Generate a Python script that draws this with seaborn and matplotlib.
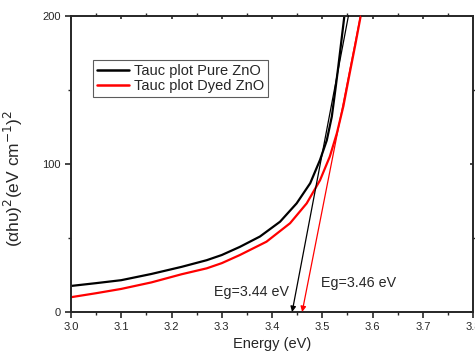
import matplotlib
matplotlib.use("Agg")
import matplotlib.pyplot as plt
from matplotlib.ticker import MultipleLocator
import seaborn as sns
import pandas as pd

# Tauc plot data
energy_pure = [3.00, 3.05, 3.10, 3.16, 3.22, 3.27, 3.30, 3.336, 3.376, 3.416,
               3.449, 3.476, 3.4955, 3.509, 3.519, 3.526, 3.532, 3.538, 3.544,
               3.550]
tauc_pure = [17.6, 19.5, 21.5, 25.7, 30.5, 35, 38.5, 44, 51, 61,
             73.4, 87, 102.7, 116, 132, 150, 166, 183, 200,
             218]

energy_dyed = [3.00, 3.05, 3.10, 3.16, 3.22, 3.27, 3.30, 3.336, 3.389, 3.436,
               3.469, 3.4955, 3.515, 3.529, 3.542, 3.555, 3.566, 3.5765, 3.587]
tauc_dyed = [10, 12.7, 15.6, 20, 25.5, 29.5, 33, 38.5, 47.5, 60,
             73.4, 89, 105, 120.7, 139, 162, 181, 200, 219]

# band gap tangents: intercept at y=0 and x where they reach y=200
eg_values = [3.44, 3.46]
tangent_top_x = [3.552, 3.576]
tangent_top_y = 200
tangent_colors = ["black", "red"]
eg_labels = ["Eg=3.44 eV", "Eg=3.46 eV"]

series_labels = ["Tauc plot Pure ZnO", "Tauc plot Dyed ZnO"]

sns.set_style("ticks")
plt.rcParams["font.family"] = ["Liberation Sans", "DejaVu Sans"]

df = pd.concat([
    pd.DataFrame({"E": energy_pure, "val": tauc_pure, "sample": series_labels[0]}),
    pd.DataFrame({"E": energy_dyed, "val": tauc_dyed, "sample": series_labels[1]}),
])

fig = plt.figure(figsize=(4.75, 3.58), dpi=100)
ax = fig.add_axes([0.1495, 0.1285, 0.8463, 0.8268])

sns.lineplot(data=df, x="E", y="val", hue="sample", palette=["black", "red"],
             linewidth=1.6, ax=ax, sort=False)

for eg, top, c in zip(eg_values, tangent_top_x, tangent_colors):
    ax.annotate("", xy=(eg, 0), xytext=(top, tangent_top_y),
                arrowprops=dict(arrowstyle="-|>", color=c, lw=0.9,
                                mutation_scale=8, shrinkA=0, shrinkB=0),
                annotation_clip=False)

ax.text(3.284, 13.5, eg_labels[0], fontsize=10.3, va="center")
ax.text(3.497, 19.8, eg_labels[1], fontsize=10.3, va="center")

ax.set_xlim(3.0, 3.8)
ax.set_ylim(0, 200)
ax.xaxis.set_major_locator(MultipleLocator(0.1))
ax.xaxis.set_minor_locator(MultipleLocator(0.05))
ax.yaxis.set_major_locator(MultipleLocator(100))
ax.yaxis.set_minor_locator(MultipleLocator(50))
ax.xaxis.set_major_formatter(plt.FormatStrFormatter("%.1f"))
ax.tick_params(which="major", direction="out", length=4, width=1.2, labelsize=8)
ax.tick_params(which="minor", direction="out", length=2.5, width=1.0)
ax.tick_params(which="both", top=True, right=True, labeltop=False, labelright=False)
for s in ax.spines.values():
    s.set_linewidth(1.4)
# tiny inward ticks on the top/right frame like the Origin export
for t in ax.xaxis.get_major_ticks():
    t.tick2line.set_marker(3)
    t.tick2line.set_markersize(2)
for t in ax.yaxis.get_major_ticks():
    t.tick2line.set_marker(0)
    t.tick2line.set_markersize(2)

ax.set_xlabel("Energy (eV)", fontsize=10.5, labelpad=3)
ax.set_ylabel("(αhυ)$^2$(eV cm$^{-1}$)$^2$", fontsize=12.5)
ax.yaxis.set_label_coords(-0.115, 0.453)

leg = ax.legend(loc="upper left", bbox_to_anchor=(0.0547, 0.851), frameon=True,
                fancybox=False, edgecolor="#333333", fontsize=10.5,
                handlelength=2.2, handletextpad=0.35, borderpad=0.25,
                labelspacing=0.1, borderaxespad=0)
leg.get_frame().set_linewidth(0.8)
for line in leg.get_lines():
    line.set_linewidth(1.8)

fig.savefig("out.png", dpi=100)
